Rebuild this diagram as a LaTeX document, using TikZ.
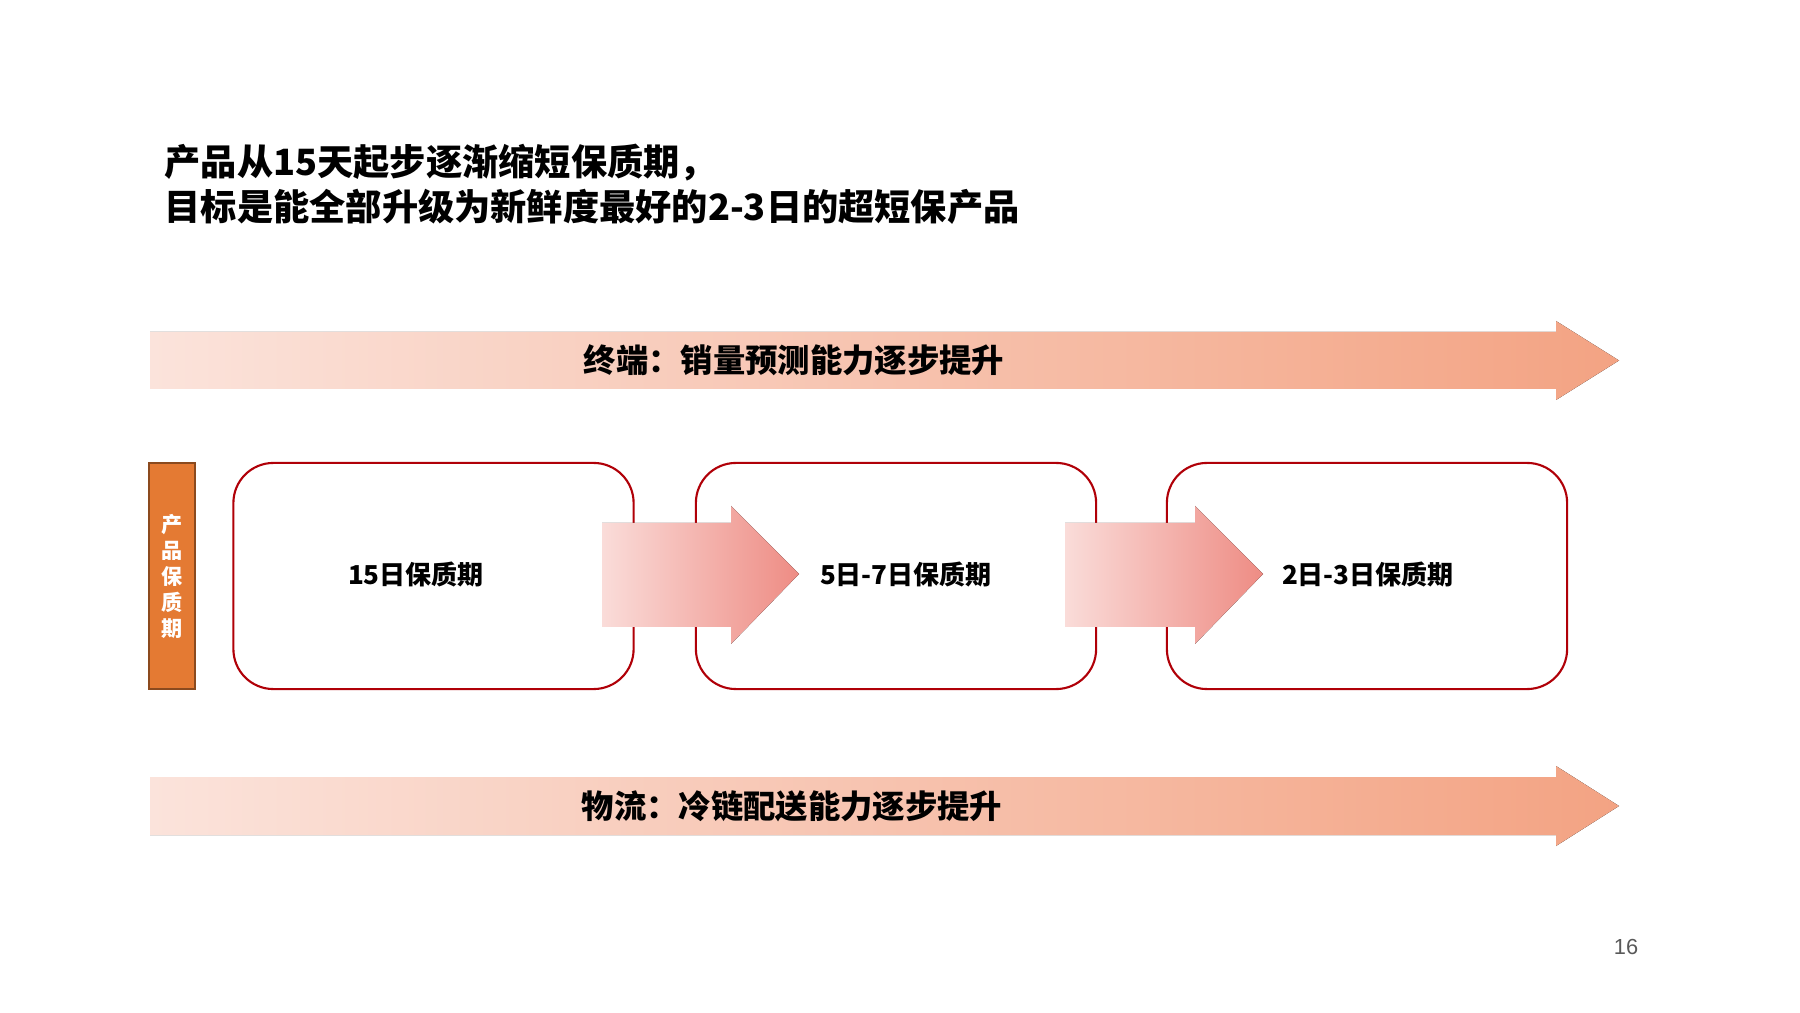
\documentclass[tikz,border=0pt]{standalone}
\usepackage{fontspec}
\setmainfont{Noto Sans CJK SC}
\newfontfamily\numfont{Liberation Sans}
\usepackage{tikz}
\usepackage{xcolor}
\usetikzlibrary{arrows.meta,positioning}
\definecolor{bigL}{HTML}{FBE3DB}
\definecolor{bigR}{HTML}{F3A383}
\definecolor{blkL}{HTML}{FADCD9}
\definecolor{blkR}{HTML}{EE8C84}
\definecolor{boxred}{HTML}{B00008}
\definecolor{barorange}{HTML}{E47A33}
\definecolor{barbrown}{HTML}{8B4A1E}

\begin{document}
\begin{tikzpicture}[x=0.01cm,y=-0.01cm,
  title/.style={anchor=west,inner sep=0pt,font=\fontsize{10.3}{12}\selectfont\bfseries},
  bigtext/.style={inner sep=0pt,font=\fontsize{9.2}{11}\selectfont\bfseries},
  daybox/.style={draw=boxred,line width=0.6pt,rounded corners=0.4cm,fill=white,
    minimum width=4cm,minimum height=2.26cm,inner sep=0pt},
  daytext/.style={inner sep=0pt,font=\fontsize{7.4}{9}\selectfont\bfseries}]
\useasboundingbox (0,0) rectangle (1800,1013);
% title
\node[title] (title1) at (164,163) {产品从15天起步逐渐缩短保质期，};
\node[title] (title2) at (164,207) {目标是能全部升级为新鲜度最好的2-3日的超短保产品};
% big arrows
\fill[left color=bigL,right color=bigR](150,332)--(1556,332)--(1556,321)--(1619,360.5)--(1556,400)--(1556,389)--(150,389)--cycle;
\node[bigtext] (sales) at (794,360) {终端：销量预测能力逐步提升};
\fill[left color=bigL,right color=bigR](150,777)--(1556,777)--(1556,766)--(1619,806)--(1556,846)--(1556,835)--(150,835)--cycle;
\node[bigtext] (logis) at (792,806) {物流：冷链配送能力逐步提升};
% side bar
\node[draw=barbrown,fill=barorange,line width=0.8pt,minimum width=0.46cm,minimum height=2.26cm,
  inner sep=0pt,align=center,text=white,font=\fontsize{6}{7.4}\selectfont\bfseries]
  (shelf) at (172,576) {产\\品\\保\\质\\期};
% boxes
\node[daybox] (d15) at (433.5,576) {};
\node[daybox] (d57) at (896,576) {};
\node[daybox] (d23) at (1367,576) {};
% block arrows
\fill[left color=blkL,right color=blkR](602,523)--(731,523)--(731,506)--(799,574)--(731,644)--(731,627)--(602,627)--cycle;
\fill[left color=blkL,right color=blkR](1065,523)--(1195,523)--(1195,506)--(1263,574)--(1195,644)--(1195,627)--(1065,627)--cycle;
\node[daytext] (t15) at (416,574) {15日保质期};
\node[daytext] (t57) at (906,574) {5日-7日保质期};
\node[daytext] (t23) at (1368,574) {2日-3日保质期};
% page number
\node[inner sep=0pt,text=black!65,font=\numfont\fontsize{6.2}{7}\selectfont] (page) at (1626,947) {16};
\end{tikzpicture}
\end{document}
